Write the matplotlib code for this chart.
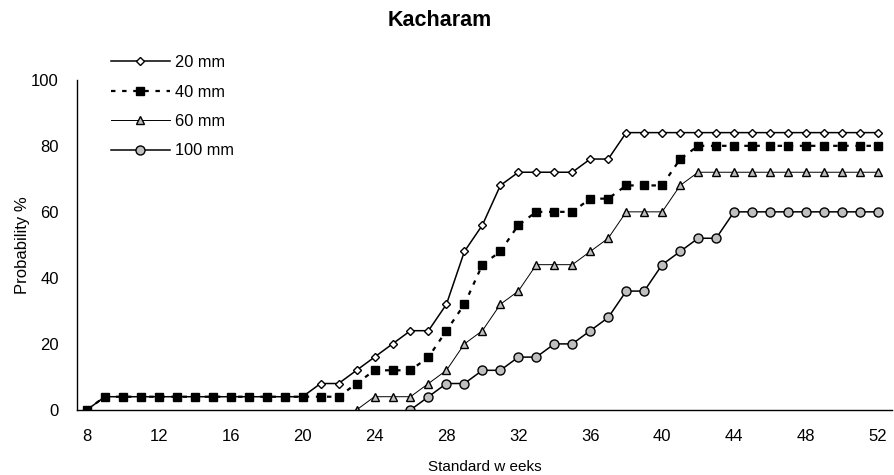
import matplotlib
matplotlib.use("Agg")
import matplotlib.pyplot as plt
import numpy as np

plt.rcParams['font.family'] = ['Liberation Sans', 'DejaVu Sans']

weeks = list(range(8, 53))
w20 = [0] + [4]*12 + [8, 8, 12, 16, 20, 24, 24, 32, 48, 56, 68, 72, 72, 72, 72, 76, 76] + [84]*15
w40 = [0] + [4]*12 + [4, 4, 8, 12, 12, 12, 16, 24, 32, 44, 48, 56, 60, 60, 60, 64, 64, 68, 68, 68, 76] + [80]*11
weeks60 = list(range(23, 53))
w60 = [0, 4, 4, 4, 8, 12, 20, 24, 32, 36, 44, 44, 44, 48, 52, 60, 60, 60, 68] + [72]*11
weeks100 = list(range(26, 53))
w100 = [0, 4, 8, 8, 12, 12, 16, 16, 20, 20, 24, 28, 36, 36, 44, 48, 52, 52] + [60]*9

xticks = list(range(8, 53, 4))
yticks = [0, 20, 40, 60, 80, 100]

fig = plt.figure(figsize=(8.95, 4.75), dpi=100)
ax = fig.add_axes([0.086, 0.137, 0.911, 0.695])

l1, = ax.plot(weeks, w20, '-', color='black', lw=1.1, marker='D', ms=4.5,
              mfc='white', mec='black', mew=1.0, label='20 mm')
l2, = ax.plot(weeks, w40, color='black', lw=1.6, ls=(0, (2, 3)), marker='s', ms=6,
              mfc='black', mec='black', label='40 mm')
l3, = ax.plot(weeks60, w60, '-', color='black', lw=0.7, marker='^', ms=6,
              mfc='#bfbfbf', mec='black', mew=1.0, label='60 mm')
l4, = ax.plot(weeks100, w100, '-', color='black', lw=1.1, marker='o', ms=6.5,
              mfc='#bfbfbf', mec='black', mew=1.0, label='100 mm')

ax.set_xlim(7.45, 52.8)
ax.set_ylim(0, 100)
ax.set_xticks(xticks)
ax.set_yticks(yticks)
ax.tick_params(axis='both', length=0, labelsize=12)
ax.tick_params(axis='x', pad=14)
ax.tick_params(axis='y', pad=13)
for s in ['top', 'right']:
    ax.spines[s].set_visible(False)
for s in ['left', 'bottom']:
    ax.spines[s].set_linewidth(1.0)

ax.set_xlabel('Standard w eeks', fontsize=11, labelpad=11)
ax.set_ylabel('Probability %', fontsize=12, labelpad=1)
fig.suptitle('Kacharam', fontsize=15.5, fontweight='bold', x=0.491, y=0.98)

fig.legend(handles=[l1, l2, l3, l4], loc='upper left',
           bbox_to_anchor=(0.124, 0.884), frameon=False, fontsize=11.8,
           handlelength=3.6, handletextpad=0.3, labelspacing=0.88, numpoints=1,
           borderaxespad=0, borderpad=0)

fig.savefig('out.png', dpi=100)
